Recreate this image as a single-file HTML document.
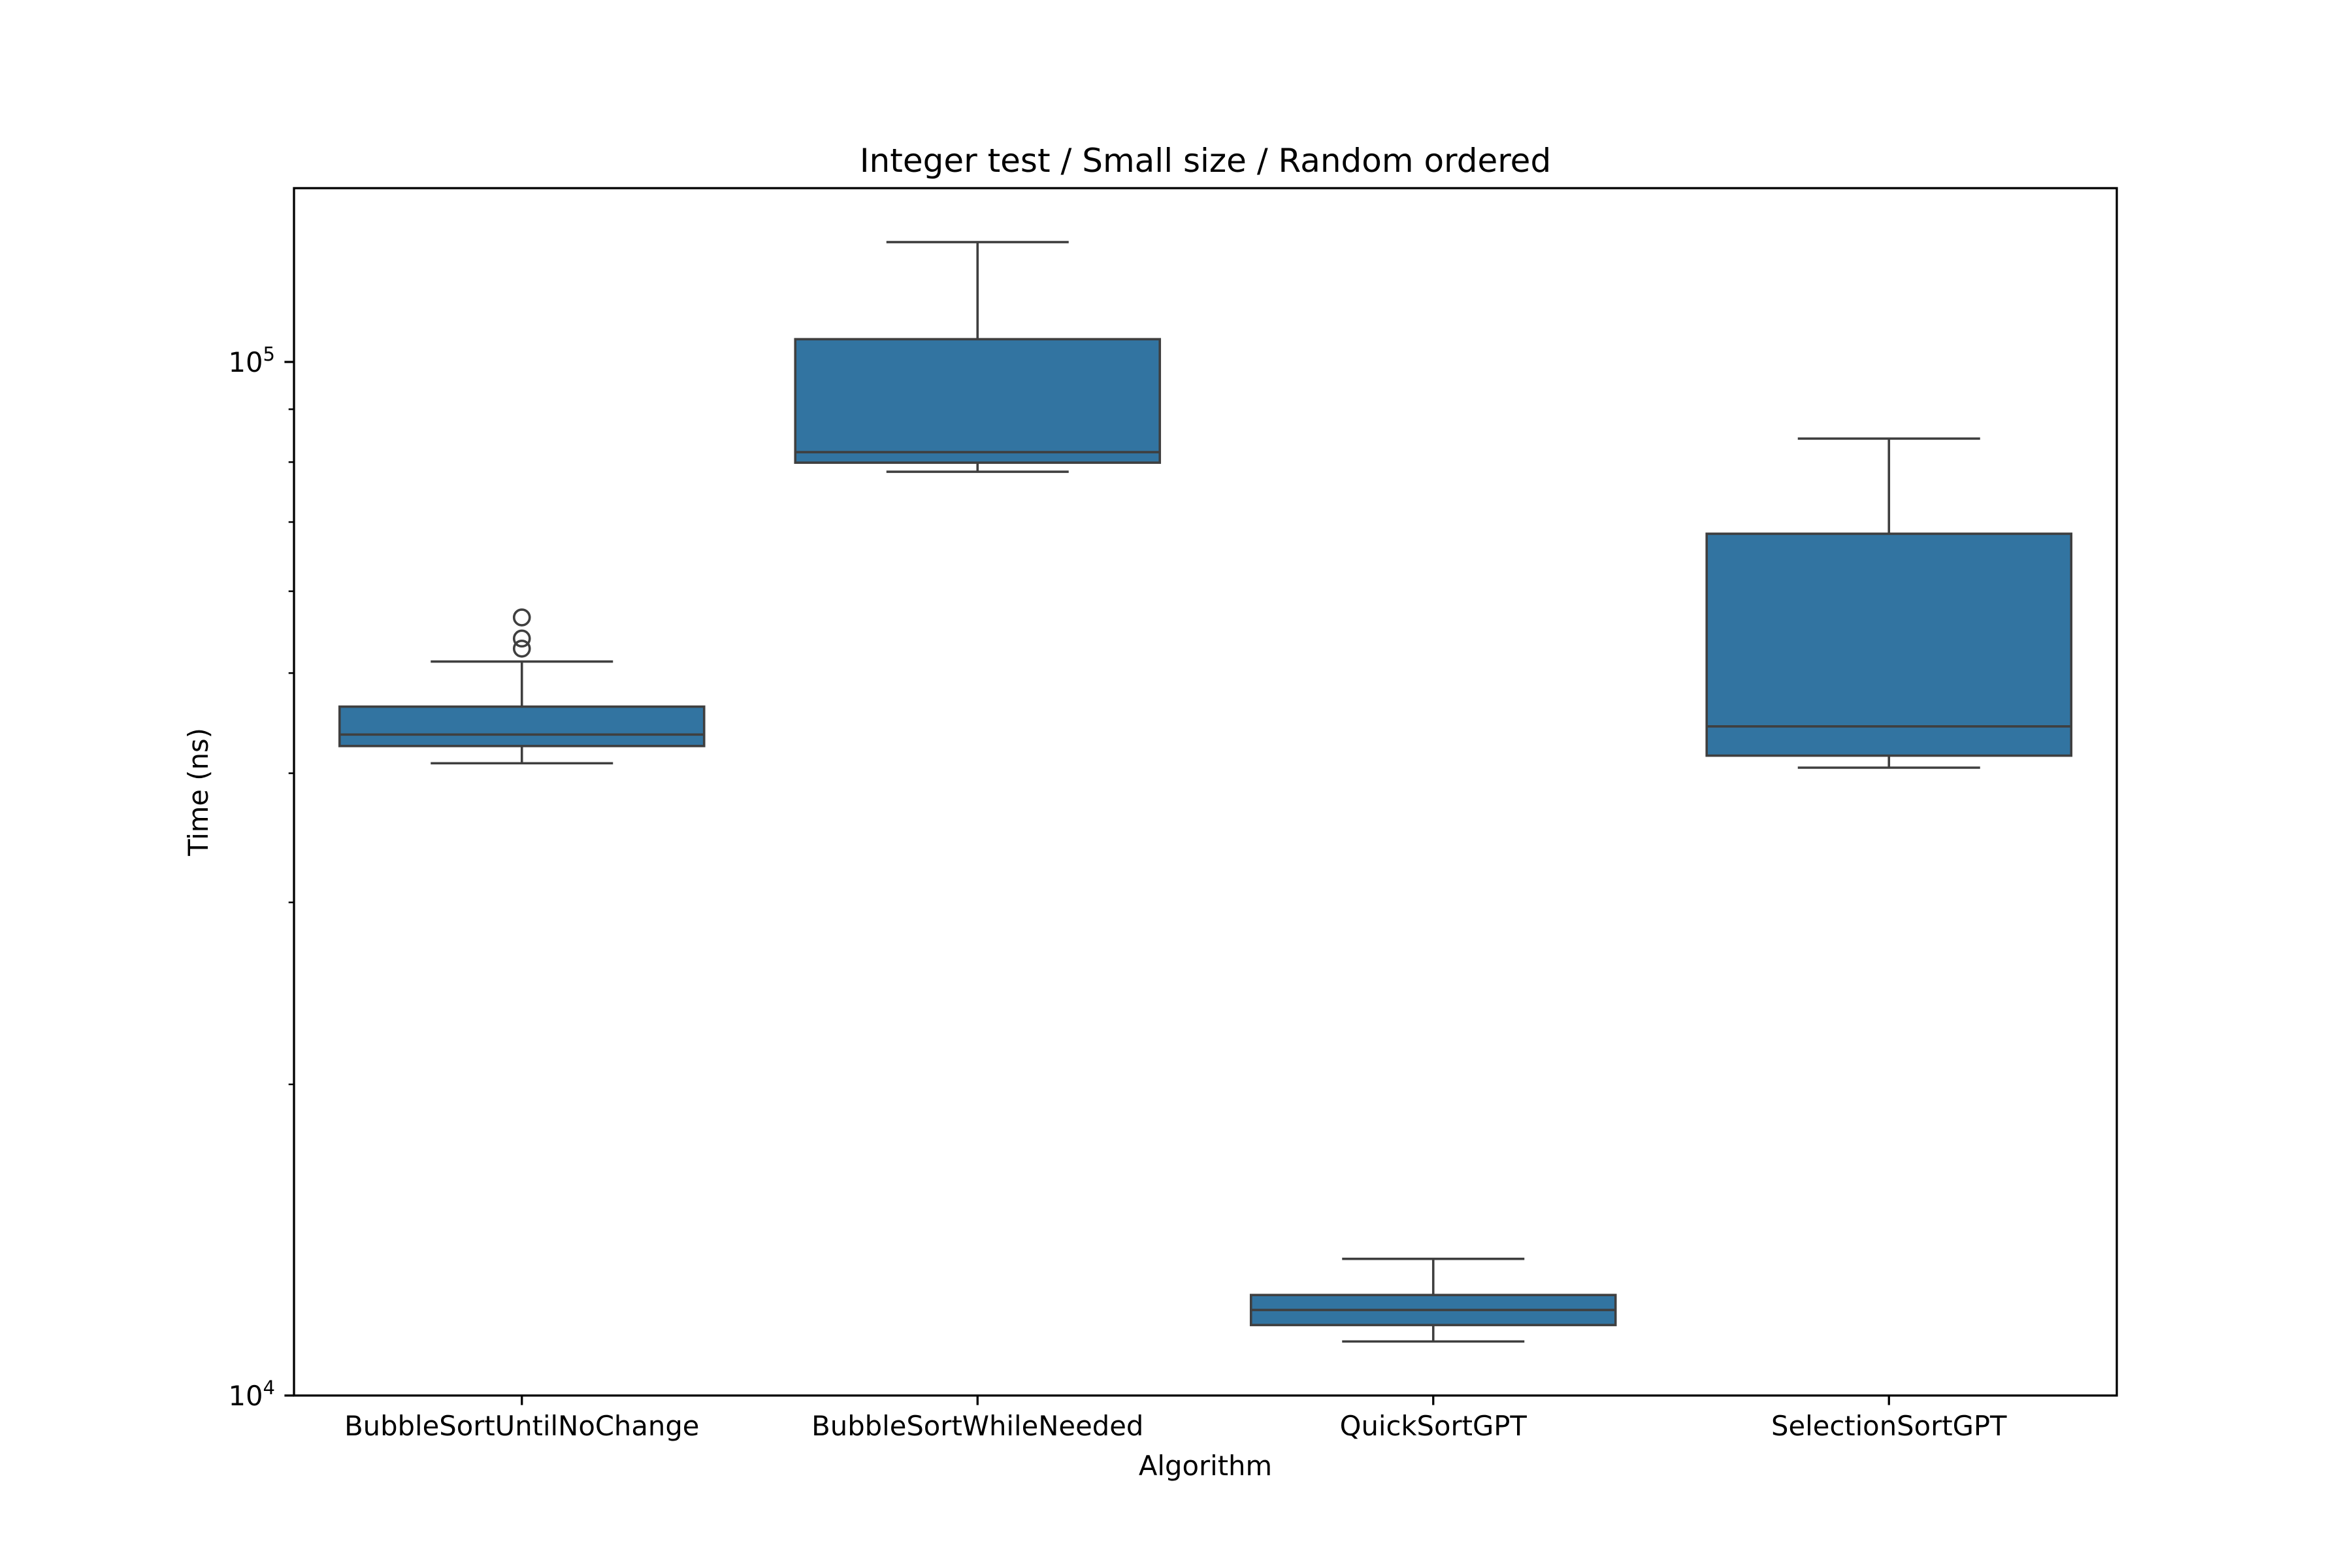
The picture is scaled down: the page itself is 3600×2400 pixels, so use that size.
<!DOCTYPE html>
<html><head><meta charset="utf-8"><style>
html,body{margin:0;padding:0;background:#fff;}
svg{display:block;font-family:"DejaVu Sans","Liberation Sans",sans-serif;}
</style></head><body>
<svg id="chart" width="3600" height="2400" viewBox="0 0 3600 2400" xmlns="http://www.w3.org/2000/svg">
<rect x="0" y="0" width="3600" height="2400" fill="#fff"/>
<text x="1845" y="263" font-size="50" text-anchor="middle" fill="#000">Integer test / Small size / Random ordered</text>
<g id="plot"></g>
<rect x="450" y="288" width="2790" height="1848" fill="none" stroke="#000" stroke-width="3.3"/>
<text x="1845" y="2258" font-size="41.7" text-anchor="middle" fill="#000">Algorithm</text>
<text x="0" y="0" font-size="41.7" text-anchor="middle" fill="#000" transform="translate(318,1212) rotate(-90)">Time (ns)</text>
</svg>
<script>
const categories = ["BubbleSortUntilNoChange","BubbleSortWhileNeeded","QuickSortGPT","SelectionSortGPT"];
const whiskLow = [40900, 78300, 11280, 40500];
const q1 = [42500, 79900, 11700, 41600];
const median = [43600, 81800, 12100, 44400];
const q3 = [46400, 105200, 12510, 68200];
const whiskHigh = [51300, 130600, 13560, 84300];
const outliers = [[56600, 54000, 52800], [], [], []];
const yMajorTicks = [10000, 100000];
const yMajorExp = ["4", "5"];
const yMinorTicks = [20000, 30000, 40000, 50000, 60000, 70000, 80000, 90000];

const NS = "http://www.w3.org/2000/svg";
const L = 450, R = 3240, T = 288, B = 2136;
const decadePx = 1582;
function yScale(v){ return B - (Math.log10(v) - 4) * decadePx; }
const band = (R - L) / categories.length;
function xScale(i){ return L + band * (i + 0.5); }
const svg = document.getElementById('chart');
const plot = document.getElementById('plot');
function mk(tag, attrs, parent){
  const e = document.createElementNS(NS, tag);
  for (const k in attrs) e.setAttribute(k, attrs[k]);
  (parent || plot).appendChild(e);
  return e;
}
const LC = "#3f3f3f", LW = 3.6, FILL = "#3274a1";
const boxW = band * 0.8, capW = band * 0.4;
categories.forEach((c, i) => {
  const cx = xScale(i);
  const g = mk('g', {});
  
  
  let l = mk('line', {x1: cx, x2: cx, y1: yScale(q3[i]), y2: yScale(whiskHigh[i]), stroke: LC, 'stroke-width': LW}, g);
  
  
  l = mk('line', {x1: cx, x2: cx, y1: yScale(q1[i]), y2: yScale(whiskLow[i]), stroke: LC, 'stroke-width': LW}, g);
  
  
  l = mk('line', {x1: cx - capW/2, x2: cx + capW/2, y1: yScale(whiskHigh[i]), y2: yScale(whiskHigh[i]), stroke: LC, 'stroke-width': LW}, g);
  
  
  l = mk('line', {x1: cx - capW/2, x2: cx + capW/2, y1: yScale(whiskLow[i]), y2: yScale(whiskLow[i]), stroke: LC, 'stroke-width': LW}, g);
  
  
  const r = mk('rect', {x: cx - boxW/2, y: yScale(q3[i]), width: boxW, height: yScale(q1[i]) - yScale(q3[i]), fill: FILL, stroke: LC, 'stroke-width': LW}, g);
  
  
  l = mk('line', {x1: cx - boxW/2, x2: cx + boxW/2, y1: yScale(median[i]), y2: yScale(median[i]), stroke: LC, 'stroke-width': LW}, g);
  
  
  outliers[i].forEach(v => {
    const o = mk('circle', {cx: cx, cy: yScale(v), r: 12, fill: 'none', stroke: LC, 'stroke-width': LW}, g);
    
    
  });
  const t = mk('line', {x1: cx, x2: cx, y1: B, y2: B + 14.6, stroke: '#000', 'stroke-width': 3.3});
  
  
  const lab = mk('text', {x: cx, y: 2197, 'font-size': 41.7, 'text-anchor': 'middle', fill: '#000'});
  lab.textContent = c;
  
  
});
yMajorTicks.forEach((v, i) => {
  const y = yScale(v);
  const t = mk('line', {x1: L - 14.6, x2: L, y1: y, y2: y, stroke: '#000', 'stroke-width': 3.3});
  
  
  const tx = mk('text', {x: 421, y: y + 15, 'font-size': 41.7, 'text-anchor': 'end', fill: '#000'});
  
  
  const a = document.createElementNS(NS, 'tspan'); a.textContent = '10'; tx.appendChild(a);
  const b = document.createElementNS(NS, 'tspan'); b.setAttribute('dy', '-17'); b.setAttribute('font-size', '29'); b.textContent = yMajorExp[i]; tx.appendChild(b);
});
yMinorTicks.forEach(v => {
  const y = yScale(v);
  const t = mk('line', {x1: L - 8.3, x2: L, y1: y, y2: y, stroke: '#000', 'stroke-width': 2.5});
  
  
});
</script>
</body></html>
